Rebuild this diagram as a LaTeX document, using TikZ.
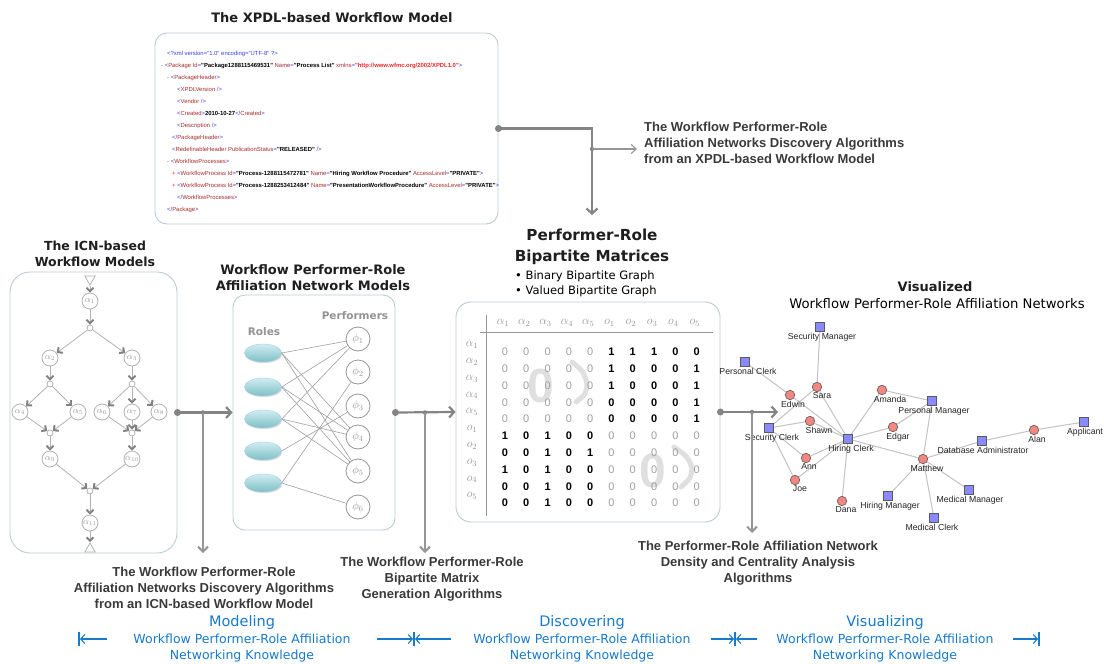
\documentclass[tikz,border=0pt]{standalone}
\usepackage[no-math]{fontspec}
\setmainfont{DejaVu Sans}
\newfontfamily\lib{Liberation Sans}
\usetikzlibrary{arrows.meta,shapes.geometric,shadows}

\definecolor{boxc}{RGB}{188,204,208}
\definecolor{flowc}{RGB}{132,132,132}
\definecolor{branchc}{RGB}{150,150,150}
\definecolor{algc}{RGB}{58,58,58}
\definecolor{phasec}{RGB}{24,122,202}
\definecolor{xblue}{RGB}{60,60,230}
\definecolor{xmar}{RGB}{165,45,45}
\definecolor{xred}{RGB}{235,40,40}
\definecolor{icnline}{RGB}{178,178,178}
\definecolor{icntip}{RGB}{130,130,130}
\definecolor{icntext}{RGB}{155,155,155}
\definecolor{roletop}{RGB}{208,238,242}
\definecolor{rolebot}{RGB}{126,190,200}
\definecolor{perfc}{RGB}{150,150,150}
\definecolor{mgray}{RGB}{150,150,150}
\definecolor{sqfill}{RGB}{138,138,255}
\definecolor{cifill}{RGB}{242,134,128}
\definecolor{netedge}{RGB}{195,195,195}
\definecolor{nodeedge}{RGB}{90,90,90}

% XML syntax colouring
\newcommand\xb[1]{\textcolor{xblue}{#1}}
\newcommand\xm[1]{\textcolor{xmar}{#1}}
\newcommand\xk[1]{\textbf{#1}}
\newcommand\xv[1]{\textcolor{xred}{\textbf{#1}}}
\newcommand\xr[1]{\textcolor{xred}{#1}}

% network vertex with its caption underneath
\newcommand\netnode[6]{\node[#1, label={[netlbl, xshift=#5pt, label distance=0.6pt]below:#6}] (#2) at (#3,#4) {};}

\pgfdeclarelayer{bg}
\pgfsetlayers{bg,main}

\begin{document}
\begin{tikzpicture}[x=1pt,y=-1pt,
  panel/.style={draw=boxc, line width=0.9pt, fill=white, rounded corners=#1, inner sep=0pt},
  panel/.default=13pt,
  hdtitle/.style={font=\bfseries\fontsize{13}{16}\selectfont, text=black!88, align=center, inner sep=0pt},
  algtext/.style={font=\lib\bfseries\fontsize{13}{16}\selectfont, text=algc, inner sep=0pt},
  phasehead/.style={font=\fontsize{14.5}{17}\selectfont, text=phasec, inner sep=0pt},
  phasetext/.style={font=\fontsize{12.5}{16.5}\selectfont, text=phasec, align=center, inner sep=0pt},
  flowdot/.style={circle, fill=flowc, inner sep=0pt, minimum size=7pt},
  branchdot/.style={circle, fill=flowc, inner sep=0pt, minimum size=4.5pt},
  mainflow/.style={draw=flowc, line width=2.2pt, -{Straight Barb[length=5pt,width=11pt]}},
  branchflow/.style={draw=branchc, line width=1.3pt, -{Straight Barb[length=5pt,width=10pt,line width=2pt]}},
  phasearrow/.style={draw=phasec, line width=1.1pt, -{Straight Barb[length=4pt,width=9pt]}},
  phasebar/.style={draw=phasec, line width=1.1pt},
  xmlline/.style={font=\lib\fontsize{5.9}{7}\selectfont, anchor=base west, inner sep=0pt},
  icnact/.style={circle, draw=icnline, fill=white, line width=0.8pt, minimum size=16pt, inner sep=0pt, text=icntext, font=\fontsize{9}{10}\selectfont},
  icnjoin/.style={circle, draw=icnline, fill=white, line width=0.8pt, minimum size=6pt, inner sep=0pt},
  icnend/.style={regular polygon, regular polygon sides=3, draw=icnline, fill=white, line width=0.8pt, minimum size=12pt, inner sep=0pt},
  icnflow/.style={draw=icnline, line width=0.8pt, -{Straight Barb[length=3.5pt,width=7pt,line width=2pt,color=icntip]}},
  role/.style={ellipse, minimum width=37pt, minimum height=18pt, inner sep=0pt, top color=roletop, bottom color=rolebot, draw=rolebot!70!white, line width=0.4pt, drop shadow={opacity=0.25,shadow xshift=0.8pt,shadow yshift=-1.2pt}},
  perf/.style={circle, draw=perfc, fill=white, line width=0.8pt, minimum size=24pt, inner sep=0pt, text=perfc, font=\fontsize{11}{12}\selectfont},
  affedge/.style={draw=gray!75, line width=0.6pt},
  sublabel/.style={font=\bfseries\fontsize{10.5}{12}\selectfont, text=gray!85, inner sep=0pt},
  hdr/.style={text=mgray, font=\fontsize{12}{13}\selectfont, inner sep=0pt},
  mzero/.style={text=gray!75, font=\lib\fontsize{11}{12}\selectfont, inner sep=0pt},
  mone/.style={text=black, font=\lib\bfseries\fontsize{11}{12}\selectfont, inner sep=0pt},
  wmark/.style={font=\lib\bfseries\fontsize{48}{48}\selectfont, text=gray, opacity=0.25, inner sep=0pt},
  wstroke/.style={draw=gray, opacity=0.25, line width=5pt, line cap=round, line join=round},
  rolesq/.style={rectangle, fill=sqfill, draw=nodeedge, line width=0.6pt, minimum size=9.5pt, inner sep=0pt},
  actor/.style={circle, fill=cifill, draw=nodeedge, line width=0.6pt, minimum size=9.5pt, inner sep=0pt},
  netlbl/.style={font=\lib\fontsize{8.7}{9}\selectfont, inner sep=0pt, text=black!85},
  netline/.style={draw=netedge, line width=1pt}
]
\useasboundingbox (0,0) rectangle (1104,664);
\begin{pgfonlayer}{bg}
\fill[white] (0,0) rectangle (1104,664);
\end{pgfonlayer}

%% ---------------- XPDL model ----------------
\node[hdtitle] (xtitle) at (332,18) {The XPDL-based Workflow Model};
\node[panel=12pt, minimum width=343pt, minimum height=191pt] (xpdl) at (326.5,128.5) {};
\node[xmlline] (xl1) at (167,55) {\xb{<?xml version="1.0" encoding="UTF-8" ?>}};
\node[xmlline] (xl2) at (161,67) {\xr{-} \xb{<}\xm{Package Id}\xb{=}\xk{"Package1288115469531"} \xm{Name}\xb{=}\xk{"Process List"} \xm{xmlns}\xb{=}\xv{"http://www.wfmc.org/2002/XPDL1.0"}\xb{>}};
\node[xmlline] (xl3) at (167,79) {\xr{-} \xb{<}\xm{PackageHeader}\xb{>}};
\node[xmlline] (xl4) at (177,91) {\xb{<}\xm{XPDLVersion} \xb{/>}};
\node[xmlline] (xl5) at (177,103) {\xb{<}\xm{Vendor} \xb{/>}};
\node[xmlline] (xl6) at (177,115) {\xb{<}\xm{Created}\xb{>}\xk{2010-10-27}\xb{</}\xm{Created}\xb{>}};
\node[xmlline] (xl7) at (177,127) {\xb{<}\xm{Description} \xb{/>}};
\node[xmlline] (xl8) at (172,139) {\xb{</}\xm{PackageHeader}\xb{>}};
\node[xmlline] (xl9) at (172,151) {\xb{<}\xm{RedefinableHeader PublicationStatus}\xb{=}\xk{"RELEASED"} \xb{/>}};
\node[xmlline] (xl10) at (167,163) {\xr{-} \xb{<}\xm{WorkflowProcesses}\xb{>}};
\node[xmlline] (xl11) at (172,175) {\xr{+} \xb{<}\xm{WorkflowProcess Id}\xb{=}\xk{"Process-1288115472781"} \xm{Name}\xb{=}\xk{"Hiring Workflow Procedure"} \xm{AccessLevel}\xb{=}\xk{"PRIVATE"}\xb{>}};
\node[xmlline] (xl12) at (172,187) {\xr{+} \xb{<}\xm{WorkflowProcess Id}\xb{=}\xk{"Process-1288253412484"} \xm{Name}\xb{=}\xk{"PresentationWorkflowProcedure"} \xm{AccessLevel}\xb{=}\xk{"PRIVATE"}\xb{>}};
\node[xmlline] (xl13) at (177,199) {\xb{</}\xm{WorkflowProcesses}\xb{>}};
\node[xmlline] (xl14) at (167,211) {\xb{</}\xm{Package}\xb{>}};

\node[algtext, anchor=west, align=left] (xalg) at (644,143) {The Workflow Performer-Role\\Affiliation Networks Discovery Algorithms\\from an XPDL-based Workflow Model};

%% ---------------- ICN model ----------------
\node[hdtitle, font=\bfseries\fontsize{12.5}{16}\selectfont] (ititle) at (95,254) {The ICN-based\\Workflow Models};
\node[panel=20pt, minimum width=167pt, minimum height=281pt] (icn) at (93.5,412.5) {};
\node[icnend, shape border rotate=180] (tt) at (90,279) {};
\node[icnact] (a1) at (90,301) {$\alpha_{1}$};
\node[icnjoin] (j1) at (90,328) {};
\node[icnact] (a2) at (50,358) {$\alpha_{2}$};
\node[icnact] (a3) at (132,358) {$\alpha_{3}$};
\node[icnjoin] (j2) at (50,384) {};
\node[icnjoin] (j3) at (132,384) {};
\node[icnact] (a4) at (20,412) {$\alpha_{4}$};
\node[icnact] (a5) at (78,412) {$\alpha_{5}$};
\node[icnact] (a6) at (102,412) {$\alpha_{6}$};
\node[icnact] (a7) at (132,412) {$\alpha_{7}$};
\node[icnact] (a8) at (159,412) {$\alpha_{8}$};
\node[icnjoin] (j4) at (50,433) {};
\node[icnjoin] (j5) at (132,433) {};
\node[icnact] (a9) at (50,459) {$\alpha_{9}$};
\node[icnact] (a10) at (132,459) {$\alpha_{10}$};
\node[icnjoin] (j6) at (90,491) {};
\node[icnact] (a11) at (90,523) {$\alpha_{11}$};
\node[icnend] (bt) at (90,549) {};
\foreach \s/\t in {tt/a1,a1/j1,j1/a2,j1/a3,a2/j2,a3/j3,j2/a4,j2/a5,j3/a6,j3/a7,j3/a8,a4/j4,a5/j4,a6/j5,a7/j5,a8/j5,j4/a9,j5/a10,a9/j6,a10/j6,j6/a11,a11/bt}
  \draw[icnflow] (\s) -- (\t);

\node[algtext, align=center] (ialg) at (204,588) {The Workflow Performer-Role\\Affiliation Networks Discovery Algorithms\\from an ICN-based Workflow Model};

%% ---------------- affiliation network models ----------------
\node[hdtitle] (atitle) at (313,278) {Workflow Performer-Role\\Affiliation Network Models};
\node[panel=12pt, minimum width=162pt, minimum height=235pt] (aff) at (314,412.5) {};
\node[sublabel] (rolesl) at (264,332) {Roles};
\node[sublabel] (perfl) at (355,316) {Performers};
\foreach \k/\yy in {1/353,2/387,3/419,4/451,5/483}
  \node[role] (r\k) at (263,\yy) {};
\foreach \k/\yy in {1/339,2/372,3/406,4/437,5/471,6/507}
  \node[perf] (p\k) at (358,\yy) {$\phi_{\k}$};
\foreach \s/\t in {1/1,1/4,1/5,2/1,2/4,2/5,3/1,3/4,3/5,4/3,5/2,5/6}
  \draw[affedge] (r\s.east) -- (p\t);

\node[algtext, align=center] (balg) at (432,579) {The Workflow Performer-Role\\Bipartite Matrix\\Generation Algorithms};

%% ---------------- bipartite matrices ----------------
\node[hdtitle, font=\bfseries\fontsize{15.2}{21}\selectfont] (mtitle) at (592,247) {Performer-Role\\Bipartite Matrices};
\node[anchor=west, align=left, inner sep=0pt, font=\fontsize{11.5}{15}\selectfont] (mbul) at (515,284) {• Binary Bipartite Graph\\• Valued Bipartite Graph};
\node[panel=15pt, minimum width=264pt, minimum height=220pt] (mat) at (588,412) {};
\draw[mgray, line width=0.8pt] (486,315) -- (486,516);
\draw[mgray, line width=0.8pt] (480,332) -- (713,332);
\node[wmark] (wz1) at (541,386) {0};
\draw[wstroke] (572,362) .. controls (584,372) .. (587,384) .. controls (586,394) .. (576,402);
\node[wmark] (wz2) at (653,471) {0};
\draw[wstroke] (674,447) .. controls (688,457) .. (692,468) .. controls (691,478) .. (681,487);
\foreach \lab [count=\k] in {\alpha_1,\alpha_2,\alpha_3,\alpha_4,\alpha_5,o_1,o_2,o_3,o_4,o_5}{
  \node[hdr] (colh\k) at ({503+21.3*(\k-1)},323) {$\lab$};
  \node[hdr] (rowh\k) at (472,{345+16.8*(\k-1)}) {$\lab$};
}
\foreach \rowvals [count=\i] in {{0,0,0,0,0,1,1,1,0,0},{0,0,0,0,0,1,0,0,0,1},{0,0,0,0,0,1,0,0,0,1},{0,0,0,0,0,0,0,0,0,1},{0,0,0,0,0,0,0,0,0,1},{1,0,1,0,0,0,0,0,0,0},{0,0,1,0,1,0,0,0,0,0},{1,0,1,0,0,0,0,0,0,0},{0,0,1,0,0,0,0,0,0,0},{0,0,1,0,0,0,0,0,0,0}}{
  \foreach \v [count=\j] in \rowvals {
    \pgfmathtruncatemacro\same{(\i<6 && \j<6) || (\i>5 && \j>5)}
    \ifnum\same=1 \tikzset{cell/.style={mzero}}\else\tikzset{cell/.style={mone}}\fi
    \node[cell] (m\i-\j) at ({505+21.3*(\j-1)},{352+16.8*(\i-1)}) {\v};
  }
}

\node[algtext, align=center] (dalg) at (758,563) {The Performer-Role Affiliation Network\\Density and Centrality Analysis\\Algorithms};

%% ---------------- visualized network ----------------
\node[hdtitle] (vtitle) at (935,287) {Visualized};
\node[inner sep=0pt, font=\fontsize{13.2}{15}\selectfont] (vsub) at (937,304) {Workflow Performer-Role Affiliation Networks};

\netnode{rolesq}{secm}{820}{327}{2}{Security Manager}
\netnode{rolesq}{perc}{745}{362}{3}{Personal Clerk}
\netnode{rolesq}{secc}{769}{428}{3}{Security Clerk}
\netnode{rolesq}{hirc}{848}{439}{3}{Hiring Clerk}
\netnode{rolesq}{perm}{932}{401}{2}{Personal Manager}
\netnode{rolesq}{dbad}{982}{441}{1}{Database Administrator}
\netnode{rolesq}{appl}{1084}{422}{1}{Applicant}
\netnode{rolesq}{hirm}{888}{496}{2}{Hiring Manager}
\netnode{rolesq}{medm}{969}{490}{1}{Medical Manager}
\netnode{rolesq}{medc}{934}{518}{-2}{Medical Clerk}
\netnode{actor}{sara}{817}{387}{5}{Sara}
\netnode{actor}{edwin}{790}{395}{3}{Edwin}
\netnode{actor}{amanda}{882}{390}{8}{Amanda}
\netnode{actor}{shawn}{810}{421}{9}{Shawn}
\netnode{actor}{edgar}{893}{427}{5}{Edgar}
\netnode{actor}{alan}{1034}{430}{3}{Alan}
\netnode{actor}{matthew}{923}{459}{4}{Matthew}
\netnode{actor}{ann}{806}{458}{3}{Ann}
\netnode{actor}{joe}{795}{480}{5}{Joe}
\netnode{actor}{dana}{842}{501}{4}{Dana}
\begin{pgfonlayer}{bg}
\foreach \s/\t in {secm/sara,perc/edwin,secc/sara,secc/shawn,secc/ann,secc/joe,edwin/hirc,sara/hirc,shawn/hirc,ann/hirc,joe/hirc,amanda/hirc,amanda/perm,edgar/hirc,edgar/perm,hirc/matthew,hirc/dana,perm/matthew,matthew/dbad,dbad/alan,alan/appl,matthew/hirm,matthew/medm,matthew/medc}
  \draw[netline] (\s) -- (\t);
\end{pgfonlayer}

%% ---------------- flow connectors ----------------
% XPDL model to the matrices
\node[flowdot] (xd) at (xpdl.east) {};
\coordinate (xc) at (592,128.5);
\coordinate (xdn) at (592,215);
\draw[mainflow] (xd.center) -- (xc) -- (xdn);
\node[branchdot] (xbr) at (592,149) {};
\coordinate (xbe) at (637,149);
\draw[branchc, line width=1.1pt, -{Straight Barb[length=5pt,width=9pt]}] (xbr.center) -- (xbe);

% ICN models to affiliation models
\node[flowdot] (id) at (icn.east) {};
\draw[mainflow] (id.center) -- (aff.west);
\node[branchdot] (ibr) at (203,412.5) {};
\coordinate (ibe) at (203,553);
\draw[branchflow] (ibr.center) -- (ibe);

% affiliation models to matrices
\node[flowdot] (ad) at (aff.east) {};
\draw[mainflow] (ad.center) -- (mat.west);
\node[branchdot] (abr) at (425,412.5) {};
\coordinate (abe) at (425,553);
\draw[branchflow] (abr.center) -- (abe);

% matrices to the visualized network
\node[flowdot] (md) at (mat.east) {};
\coordinate (mte) at (778,412);
\draw[mainflow] (md.center) -- (mte);
\node[branchdot] (mbr) at (752,412) {};
\coordinate (mbe) at (752,533);
\draw[branchflow] (mbr.center) -- (mbe);

%% ---------------- phases ----------------
\node[phasehead] (modh) at (242,622) {Modeling};
\node[phasetext] (modt) at (242,648) {Workflow Performer-Role Affiliation\\Networking Knowledge};
\node[phasehead] (dish) at (582,622) {Discovering};
\node[phasetext] (dist) at (582,648) {Workflow Performer-Role Affiliation\\Networking Knowledge};
\node[phasehead] (vish) at (885,622) {Visualizing};
\node[phasetext] (vist) at (885,648) {Workflow Performer-Role Affiliation\\Networking Knowledge};

\coordinate (q0s) at (107,639); \coordinate (q0e) at (80,639);
\coordinate (q0a) at (79,632);  \coordinate (q0b) at (79,646);
\draw[phasearrow] (q0s) -- (q0e);
\draw[phasebar] (q0a) -- (q0b);

\coordinate (q1s) at (377,639); \coordinate (q1e) at (413,639);
\coordinate (q1a) at (414,632); \coordinate (q1b) at (414,646);
\coordinate (q2s) at (451,639); \coordinate (q2e) at (415,639);
\draw[phasearrow] (q1s) -- (q1e);
\draw[phasebar] (q1a) -- (q1b);
\draw[phasearrow] (q2s) -- (q2e);

\coordinate (q3s) at (711,639); \coordinate (q3e) at (734,639);
\coordinate (q3a) at (735,632); \coordinate (q3b) at (735,646);
\coordinate (q4s) at (757,639); \coordinate (q4e) at (736,639);
\draw[phasearrow] (q3s) -- (q3e);
\draw[phasebar] (q3a) -- (q3b);
\draw[phasearrow] (q4s) -- (q4e);

\coordinate (q5s) at (1013,639); \coordinate (q5e) at (1038,639);
\coordinate (q5a) at (1039,632); \coordinate (q5b) at (1039,646);
\draw[phasearrow] (q5s) -- (q5e);
\draw[phasebar] (q5a) -- (q5b);
\end{tikzpicture}
\end{document}
